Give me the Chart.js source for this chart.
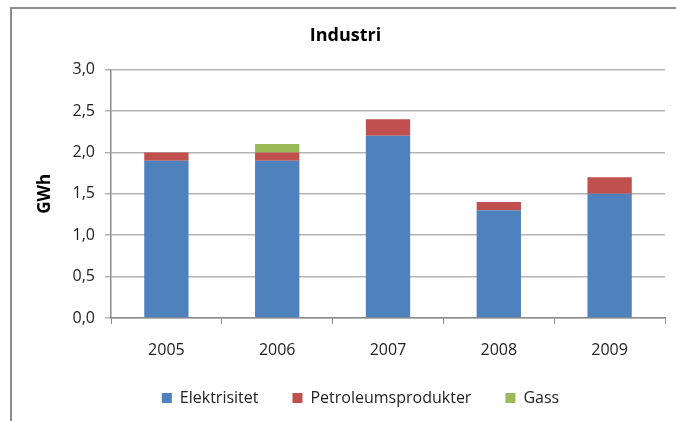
<!DOCTYPE html>
<html>
<head>
<meta charset="utf-8">
<script src="https://cdn.jsdelivr.net/npm/chart.js@4"></script>
<style>
    body { margin: 0; background: #fff; }
    #wrap { position: relative; width: 676px; height: 421px; }
    #frame {
        position: absolute; left: 10px; top: 7px; right: 0; bottom: 0;
        border-top: 2px solid #8c8c8c; border-left: 2px solid #8c8c8c;
    }
    #chart { position: absolute; left: 0; top: 0; }
</style>
</head>
<body>
<div id="wrap">
    <div id="frame"></div>
    <canvas id="chart" width="676" height="421"></canvas>
</div>
<script>
'use strict'

const years = ["2005", "2006", "2007", "2008", "2009"];
const elektrisitet = [1.9, 1.9, 2.2, 1.3, 1.5];
const petroleum = [0.1, 0.1, 0.2, 0.1, 0.2];
const gass = [0, 0.1, 0, 0, 0];
const yTicks = [0, 0.5, 1.0, 1.5, 2.0, 2.5, 3.0];

const font = "'Open Sans', 'Liberation Sans', sans-serif";
const gridColor = "#b4b4b4";

// legend and title sit a bit right of centre in the original
const shiftBoxes = {
    id: "shiftBoxes",
    afterLayout(chart) {
        chart.legend.left += 28;
        chart.legend.right += 28;
        chart.titleBlock.left += 13;
        chart.titleBlock.right += 13;
    }
};

new Chart(document.getElementById("chart"), {
    type: "bar",
    data: {
        labels: years,
        datasets: [
            {label: "Elektrisitet", data: elektrisitet, backgroundColor: "#4f81bd"},
            {label: "Petroleumsprodukter", data: petroleum, backgroundColor: "#c0504d"},
            {label: "Gass", data: gass, backgroundColor: "#9bbb59"}
        ]
    },
    plugins: [shiftBoxes],
    options: {
        responsive: false,
        animation: false,
        categoryPercentage: 1,
        barPercentage: 0.4,
        layout: {padding: {left: 0, right: 11, top: 0, bottom: 5}},
        plugins: {
            title: {
                display: true,
                text: "Industri",
                color: "#000",
                font: {family: font, size: 18, weight: "bold"},
                padding: {top: 25, bottom: 23}
            },
            legend: {
                position: "bottom",
                labels: {
                    color: "#222",
                    font: {family: font, size: 16},
                    boxWidth: 10,
                    boxHeight: 10,
                    padding: 34
                }
            },
            tooltip: {enabled: false}
        },
        scales: {
            x: {
                stacked: true,
                grid: {
                    offset: true,
                    drawOnChartArea: false,
                    drawTicks: true,
                    tickLength: 6,
                    color: "#8c8c8c"
                },
                border: {color: "#8c8c8c", width: 1.5},
                ticks: {
                    color: "#222",
                    font: {family: font, size: 16},
                    padding: 17
                },
                afterFit: (scale) => { scale.height = 38; }
            },
            y: {
                stacked: true,
                min: 0,
                max: 3,
                afterBuildTicks: (scale) => {
                    scale.ticks = yTicks.map(v => ({value: v}));
                },
                grid: {
                    color: gridColor,
                    lineWidth: 1.5,
                    tickLength: 6
                },
                border: {color: "#8c8c8c", width: 1.5},
                ticks: {
                    color: "#222",
                    font: {family: font, size: 16},
                    padding: 10,
                    callback: (value) => value.toFixed(1).replace(".", ",")
                },
                title: {
                    display: true,
                    text: "GWh",
                    color: "#000",
                    font: {family: font, size: 17, weight: "bold"},
                    padding: {top: 35, bottom: 0}
                },
                afterFit: (scale) => { scale.width = 111; }
            }
        }
    }
});
</script>
</body>
</html>
